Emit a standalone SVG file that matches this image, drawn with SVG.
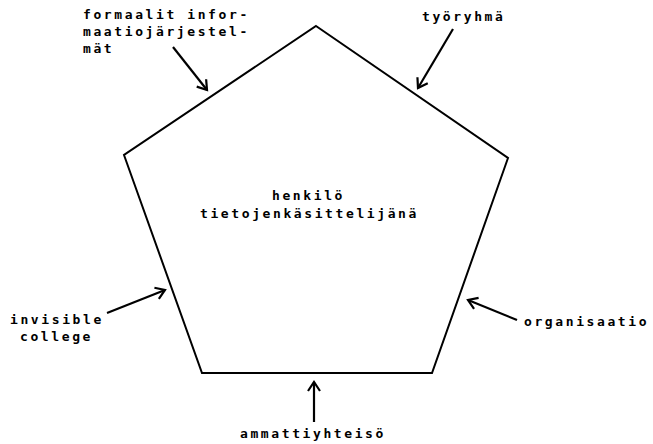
<svg xmlns="http://www.w3.org/2000/svg" width="653" height="444" viewBox="0 0 653 444">
  <style>
    .lbl { font-family: "DejaVu Sans Mono", "Liberation Mono", monospace; font-size: 13px; font-weight: bold; letter-spacing: 2.6px; fill: #000; }
    .edge { fill: none; stroke: #000; stroke-width: 2; stroke-linejoin: miter; }
    .arr { fill: none; stroke: #000; stroke-width: 2.2; marker-end: url(#head); }
  </style>
  <defs>
    <marker id="head" markerUnits="userSpaceOnUse" markerWidth="20" markerHeight="20" refX="0" refY="0" viewBox="-12 -10 14 20" orient="auto">
      <path d="M-9,-6 L0,0 L-9,6" fill="none" stroke="#000" stroke-width="2.2"/>
    </marker>
  </defs>
  <rect width="653" height="444" fill="#fff"/>

  <g id="pentagon">
    <polygon class="edge" points="316,26 508,158 432,373 202,373 124,155"/>
  </g>

  <g id="center">
    <text class="lbl" x="272" y="200">henkilö</text>
    <text class="lbl" x="200" y="218">tietojenkäsittelijänä</text>
  </g>

  <g id="formaalit">
    <text class="lbl" x="83" y="19">formaalit infor-</text>
    <text class="lbl" x="83" y="36">maatiojärjestel-</text>
    <text class="lbl" x="83" y="53">mät</text>
  </g>

  <g id="tyoryhma">
    <text class="lbl" x="422" y="21">työryhmä</text>
  </g>

  <g id="invisible">
    <text class="lbl" x="10" y="324">invisible</text>
    <text class="lbl" x="20" y="341">college</text>
  </g>

  <g id="organisaatio">
    <text class="lbl" x="524" y="326">organisaatio</text>
  </g>

  <g id="ammattiyhteiso">
    <text class="lbl" x="240" y="438">ammattiyhteisö</text>
  </g>

  <g id="connectors">
    <line class="arr" x1="173" y1="47" x2="207" y2="90"/>
    <line class="arr" x1="453" y1="29" x2="418" y2="88"/>
    <line class="arr" x1="107" y1="313" x2="165" y2="290"/>
    <line class="arr" x1="517" y1="320" x2="468" y2="300"/>
    <line class="arr" x1="314" y1="422" x2="314" y2="382"/>
  </g>
</svg>
